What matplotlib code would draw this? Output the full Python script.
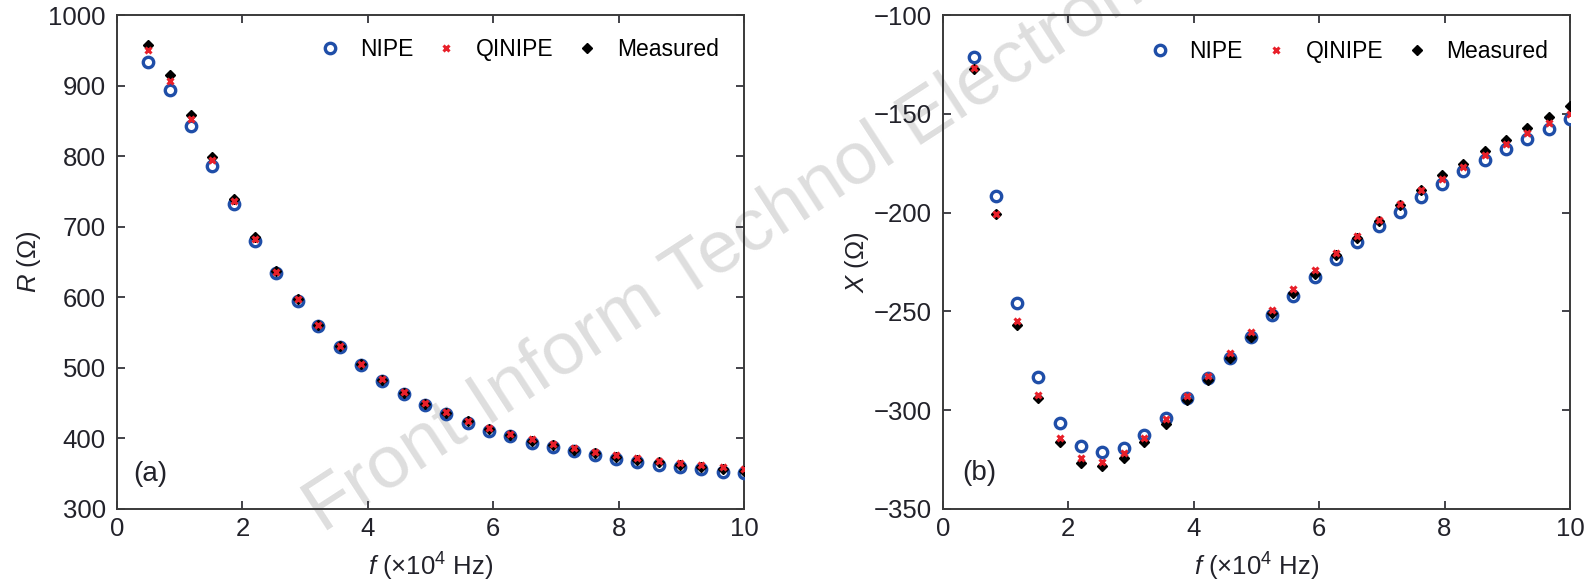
import matplotlib
matplotlib.use("Agg")
import matplotlib.pyplot as plt

plt.rcParams['font.family'] = ['Liberation Sans', 'DejaVu Sans']
plt.rcParams['mathtext.fontset'] = 'custom'
plt.rcParams['mathtext.it'] = 'Liberation Sans:italic'
plt.rcParams['mathtext.rm'] = 'Liberation Sans'

freq = [0.5, 0.84, 1.18, 1.52, 1.86, 2.2, 2.54, 2.88, 3.21, 3.55, 3.89, 4.23, 4.57, 4.91,
        5.25, 5.59, 5.93, 6.27, 6.61, 6.95, 7.29, 7.63, 7.96, 8.3, 8.64, 8.98, 9.32, 9.66, 10.0]

R_nipe = [934, 894, 843, 786, 732, 680, 634, 595, 559, 530, 504, 482, 463, 448, 435, 422,
          411, 403, 394, 388, 382, 376, 371, 366, 363, 359, 356, 353, 351]
R_qinipe = [950, 906, 852, 795, 736, 683, 636, 597, 561, 531, 506, 484, 466, 450, 437, 425,
            415, 406, 399, 392, 386, 381, 376, 372, 368, 365, 362, 359, 357]
R_meas = [957, 915, 858, 799, 739, 685, 637, 597, 561, 531, 505, 483, 465, 449, 436, 424,
          414, 405, 397, 390, 384, 379, 374, 370, 366, 362, 359, 356, 354]

X_nipe = [-121.4, -191.8, -245.6, -283.2, -306.6, -318.3, -321.4, -319.0, -312.5, -303.7,
          -294.0, -283.7, -273.4, -262.8, -252.0, -242.3, -232.7, -223.7, -215.0, -206.9,
          -199.7, -192.3, -185.5, -179.1, -173.2, -167.8, -162.6, -157.7, -152.7]
X_qinipe = [-127.0, -200.5, -255.0, -292.3, -314.3, -324.4, -326.0, -321.9, -314.3, -304.5,
            -293.0, -282.7, -271.2, -260.3, -249.3, -238.9, -229.1, -220.4, -211.6, -203.5,
            -195.5, -188.7, -182.8, -177.0, -170.7, -165.3, -159.8, -154.7, -150.0]
X_meas = [-127.5, -200.7, -257.0, -294.0, -316.0, -326.9, -328.0, -324.2, -316.3, -307.0,
          -294.8, -284.5, -273.7, -262.8, -251.0, -240.6, -231.3, -221.7, -212.8, -204.4,
          -196.3, -188.7, -180.8, -175.4, -169.0, -163.4, -157.2, -151.4, -146.0]

x_ticks = [0, 2, 4, 6, 8, 10]
R_ticks = [300, 400, 500, 600, 700, 800, 900, 1000]
X_ticks = [-350, -300, -250, -200, -150, -100]

fig = plt.figure(figsize=(15.95, 5.86), dpi=100)
ax1 = fig.add_axes([0.0734, 0.1314, 0.3931, 0.843])
ax2 = fig.add_axes([0.5912, 0.1314, 0.3931, 0.843])

tick_color = '#22222a'
FS = 18.5

def style(ax):
    ax.set_facecolor('none')
    ax.set_zorder(1)
    ax.tick_params(direction='in', top=True, right=True, labelsize=FS,
                   colors=tick_color, length=6, width=1.2)
    ax.tick_params(axis='y', pad=8)
    ax.tick_params(axis='x', pad=6)
    for s in ax.spines.values():
        s.set_color('#3a3a3a')
        s.set_linewidth(1.4)

def draw(ax, y1, y2, y3, anchor):
    ax.plot(freq, y1, linestyle='none', marker='o', ms=7.5, mfc='white', mec='#1f4ea8',
            mew=2.4, label='NIPE', zorder=3)
    ax.plot(freq, y3, linestyle='none', marker='D', ms=5, mfc='black', mec='black',
            label='Measured', zorder=4)
    ax.plot(freq, y2, linestyle='none', marker='x', ms=5, mec='#e8202a', mew=2.2,
            label='QINIPE', zorder=5)
    h, l = ax.get_legend_handles_labels()
    order = [0, 2, 1]
    ax.legend([h[i] for i in order], [l[i] for i in order], loc='center right',
              ncol=3, frameon=False, fontsize=16.5, handletextpad=0.8,
              columnspacing=0.95, bbox_to_anchor=anchor, handlelength=1.0,
              borderaxespad=0.0)

draw(ax1, R_nipe, R_qinipe, R_meas, (0.974, 0.931))
ax1.set_xlim(0, 10)
ax1.set_ylim(300, 1000)
ax1.set_xticks(x_ticks)
ax1.set_yticks(R_ticks)
ax1.set_ylabel(r'$\mathit{R}$ ($\Omega$)', fontsize=FS, color=tick_color, labelpad=4)
ax1.set_xlabel(r'$\mathit{f}$ (×10$^4$ Hz)', fontsize=FS, color=tick_color, labelpad=7)
ax1.text(0.26, 350, '(a)', fontsize=20, color=tick_color, va='center')
style(ax1)

draw(ax2, X_nipe, X_qinipe, X_meas, (0.98, 0.926))
ax2.set_xlim(0, 10)
ax2.set_ylim(-350, -100)
ax2.set_xticks(x_ticks)
ax2.set_yticks(X_ticks)
ax2.set_yticklabels(['\u2212' + str(abs(v)) for v in X_ticks])
ax2.set_ylabel(r'$\mathit{X}$ ($\Omega$)', fontsize=FS, color=tick_color, labelpad=2)
ax2.set_xlabel(r'$\mathit{f}$ (×10$^4$ Hz)', fontsize=FS, color=tick_color, labelpad=7)
ax2.text(0.3, -332, '(b)', fontsize=20, color=tick_color, va='center')
style(ax2)

fig.text(0.2025, 0.09, 'Front Inform Technol Electron Eng', fontsize=54, color='#dedede',
         rotation=33, rotation_mode='anchor', zorder=0.5, ha='left', va='baseline')

fig.savefig('out.png', dpi=100)
